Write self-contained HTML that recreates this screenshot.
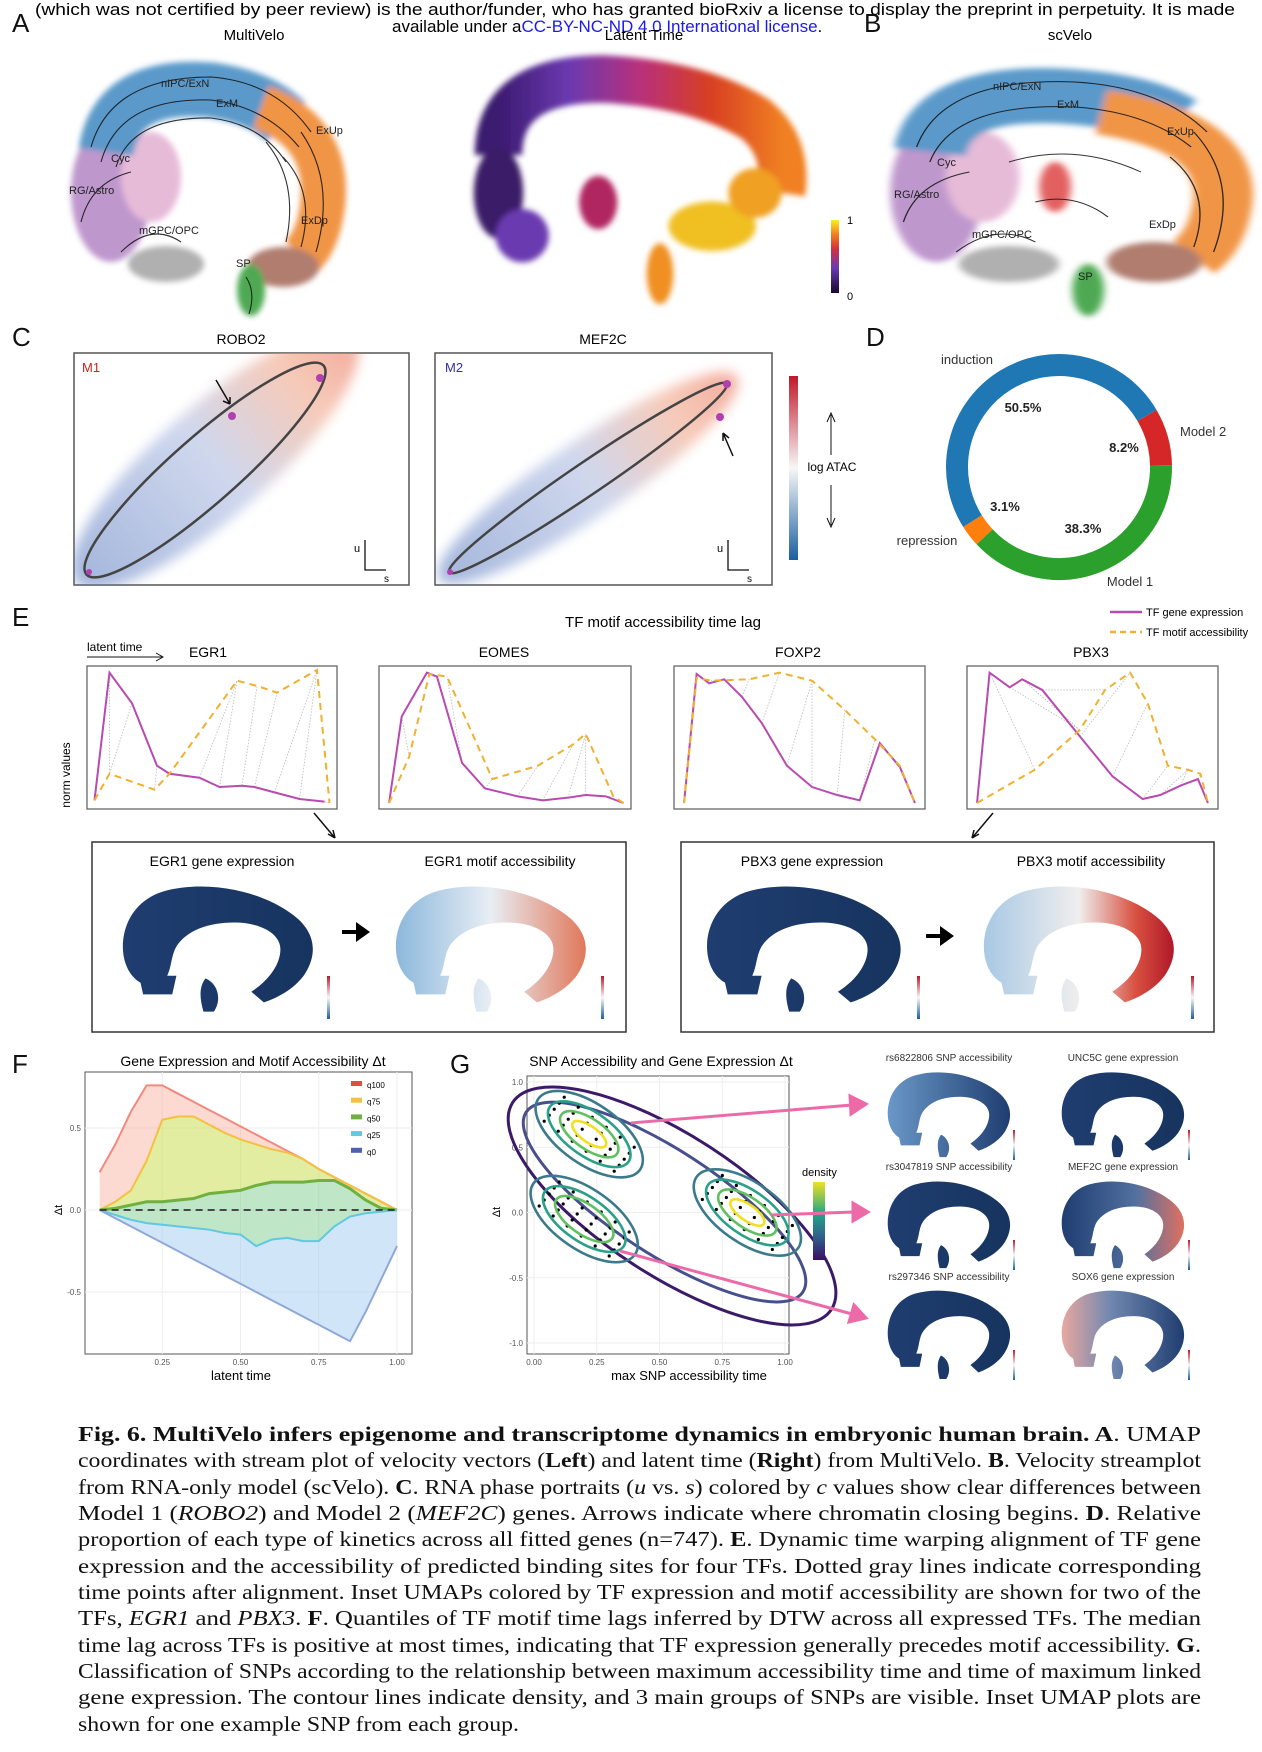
<!DOCTYPE html>
<html><head><meta charset="utf-8">
<style>
html,body{margin:0;padding:0;background:#fff;}
svg{display:block;font-family:"Liberation Sans",sans-serif;}
.cap{font-family:"Liberation Serif",serif;font-size:21px;fill:#111;}
.lbl{font-size:26px;fill:#111;}
</style></head>
<body>
<svg id="fig" width="1262" height="1752" viewBox="0 0 1262 1752" xmlns="http://www.w3.org/2000/svg">
<defs>
 <filter id="blur" x="-20%" y="-20%" width="140%" height="140%"><feGaussianBlur stdDeviation="3"/></filter>
 <filter id="blur2" x="-20%" y="-20%" width="140%" height="140%"><feGaussianBlur stdDeviation="6"/></filter>
 <clipPath id="clipRobo"><rect x="74" y="353" width="335" height="232"/></clipPath>
 <clipPath id="clipMef"><rect x="435" y="353" width="337" height="232"/></clipPath>
 <linearGradient id="ltg" x1="0" y1="0" x2="1" y2="0">
  <stop offset="0" stop-color="#3b1a70"/><stop offset="0.25" stop-color="#6b3ab0"/><stop offset="0.5" stop-color="#b8307a"/><stop offset="0.75" stop-color="#d84020"/><stop offset="1" stop-color="#f08020"/>
 </linearGradient>
 <linearGradient id="ltbar" x1="0" y1="1" x2="0" y2="0">
  <stop offset="0" stop-color="#1a0830"/><stop offset="0.35" stop-color="#6b3ab0"/><stop offset="0.6" stop-color="#d03040"/><stop offset="0.8" stop-color="#f08020"/><stop offset="1" stop-color="#f8f020"/>
 </linearGradient>
 <linearGradient id="rdbu" x1="0" y1="0" x2="0" y2="1">
  <stop offset="0" stop-color="#c0182a"/><stop offset="0.5" stop-color="#f7f7f7"/><stop offset="1" stop-color="#1b5fa0"/>
 </linearGradient>
 <linearGradient id="cloud1" x1="0" y1="0" x2="1" y2="0">
  <stop offset="0" stop-color="#5a7bc0"/><stop offset="0.5" stop-color="#a9b8e0"/><stop offset="0.8" stop-color="#f0a080"/><stop offset="1" stop-color="#e86850"/>
 </linearGradient>
 <linearGradient id="dens" x1="0" y1="1" x2="0" y2="0">
  <stop offset="0" stop-color="#3b0f60"/><stop offset="0.3" stop-color="#30608c"/><stop offset="0.6" stop-color="#22a884"/><stop offset="1" stop-color="#f0e020"/>
 </linearGradient>
 <linearGradient id="uDark" x1="0" y1="0" x2="1" y2="0">
  <stop offset="0" stop-color="#1f3d70"/><stop offset="1" stop-color="#17345f"/>
 </linearGradient>
 <linearGradient id="uEgrMotif" x1="0" y1="0" x2="1" y2="0">
  <stop offset="0" stop-color="#8cb8dc"/><stop offset="0.5" stop-color="#e8eef4"/><stop offset="1" stop-color="#e0785a"/>
 </linearGradient>
 <linearGradient id="uPbxMotif" x1="0" y1="0" x2="1" y2="0">
  <stop offset="0" stop-color="#a8c8e4"/><stop offset="0.5" stop-color="#f0eeee"/><stop offset="0.8" stop-color="#d85040"/><stop offset="1" stop-color="#b01828"/>
 </linearGradient>
 <linearGradient id="uSnp1" x1="0" y1="0" x2="1" y2="0">
  <stop offset="0" stop-color="#6a98c8"/><stop offset="1" stop-color="#1f3d70"/>
 </linearGradient>
 <linearGradient id="uMef" x1="0" y1="0" x2="1" y2="0">
  <stop offset="0" stop-color="#1f3d70"/><stop offset="0.6" stop-color="#5070a0"/><stop offset="1" stop-color="#e07060"/>
 </linearGradient>
 <linearGradient id="uSox" x1="0" y1="0" x2="1" y2="0">
  <stop offset="0" stop-color="#e8a8a0"/><stop offset="0.4" stop-color="#7088b0"/><stop offset="1" stop-color="#1f3d70"/>
 </linearGradient>
 <symbol id="hs" viewBox="0 0 100 100" preserveAspectRatio="none">
  <path d="M5,60 C2,40 8,15 25,8 C45,0 70,8 85,25 C97,38 98,55 92,70 C88,80 80,88 72,92 L66,84 C74,76 80,64 80,52 C80,40 70,32 58,32 C45,32 35,38 30,50 C27,58 28,68 24,76 C18,84 8,78 5,60 Z M44,74 C50,78 52,90 48,99 L43,99 C41,88 41,80 44,74 Z M12,72 L30,72 L28,86 L14,86 Z"/>
 </symbol>
</defs>

<!-- header -->
<text x="635" y="15" text-anchor="middle" font-size="17" textLength="1200" lengthAdjust="spacingAndGlyphs">(which was not certified by peer review) is the author/funder, who has granted bioRxiv a license to display the preprint in perpetuity. It is made</text>
<text x="392" y="32" font-size="17">available under a<tspan fill="#1a1aee">CC-BY-NC-ND 4.0 International license</tspan>.</text>

<text class="lbl" x="12" y="32">A</text>
<text class="lbl" x="864" y="32">B</text>
<text class="lbl" x="12" y="346">C</text>
<text class="lbl" x="866" y="346">D</text>
<text class="lbl" x="12" y="626">E</text>
<text class="lbl" x="12" y="1073">F</text>
<text class="lbl" x="450" y="1073">G</text>

<!-- Panel A MultiVelo -->
<text x="254" y="40" text-anchor="middle" font-size="15">MultiVelo</text>
<g transform="translate(61,52)">
 <g filter="url(#blur)" opacity="0.9">
  <ellipse cx="50" cy="140" rx="40" ry="70" fill="#b88cc8"/>
  <ellipse cx="90" cy="125" rx="30" ry="45" fill="#e4b4d4"/>
  <path d="M45,100 Q55,30 150,38 Q200,45 225,70" fill="none" stroke="#4a8fc4" stroke-width="55"/>
  <path d="M200,55 Q268,80 262,150 Q258,188 240,205" fill="none" stroke="#ef8a32" stroke-width="45"/>
  <ellipse cx="222" cy="215" rx="36" ry="20" fill="#a87060"/>
  <ellipse cx="105" cy="212" rx="38" ry="18" fill="#a8a8a8"/>
  <ellipse cx="190" cy="238" rx="14" ry="26" fill="#3aa040"/>
 </g>
 <g fill="none" stroke="#111" stroke-width="1.1" opacity="0.85">
  <path d="M30,95 Q50,25 150,25 Q215,30 250,80"/>
  <path d="M40,110 Q58,45 150,48 Q205,55 238,95"/>
  <path d="M55,115 Q70,65 150,66 Q200,72 225,110"/>
  <path d="M240,80 Q275,130 255,200"/>
  <path d="M222,105 Q255,140 240,195"/>
  <path d="M205,90 Q238,130 225,190"/>
  <path d="M20,170 Q30,130 70,120"/>
  <path d="M60,200 Q90,170 120,190"/>
  <path d="M185,225 Q195,240 188,262"/>
 </g>
 <g font-size="11" fill="#222">
  <text x="100" y="35">nIPC/ExN</text><text x="155" y="55">ExM</text><text x="255" y="82">ExUp</text>
  <text x="50" y="110">Cyc</text><text x="8" y="142">RG/Astro</text><text x="78" y="182">mGPC/OPC</text>
  <text x="240" y="172">ExDp</text><text x="175" y="215">SP</text>
 </g>
</g>

<!-- Latent time -->
<text x="644" y="40" text-anchor="middle" font-size="15">Latent Time</text>
<g transform="translate(470,60) scale(0.95,0.95)">
 <g filter="url(#blur)">
  <path d="M30,100 Q30,20 140,20 Q240,25 300,62 Q335,90 328,140" fill="none" stroke="url(#ltg)" stroke-width="50"/>
  <ellipse cx="30" cy="140" rx="26" ry="48" fill="#3a1a68"/>
  <ellipse cx="55" cy="185" rx="28" ry="28" fill="#6b3ab0"/>
  <ellipse cx="135" cy="150" rx="20" ry="28" fill="#b02860"/>
  <ellipse cx="255" cy="175" rx="46" ry="26" fill="#f0c020"/>
  <ellipse cx="300" cy="140" rx="28" ry="26" fill="#f0a020"/>
  <ellipse cx="200" cy="225" rx="14" ry="32" fill="#f09020"/>
 </g>
</g>
<rect x="831" y="220" width="8" height="73" fill="url(#ltbar)"/>
<text x="847" y="224" font-size="11">1</text>
<text x="847" y="300" font-size="11">0</text>

<!-- Panel B scVelo -->
<text x="1070" y="40" text-anchor="middle" font-size="15">scVelo</text>
<g transform="translate(877,52) scale(1.32,1)">
 <g filter="url(#blur)" opacity="0.9">
  <ellipse cx="45" cy="140" rx="35" ry="70" fill="#b88cc8"/>
  <ellipse cx="80" cy="125" rx="28" ry="45" fill="#e4b4d4"/>
  <path d="M40,100 Q50,35 150,45 Q200,50 225,70" fill="none" stroke="#4a8fc4" stroke-width="55"/>
  <path d="M170,60 Q268,80 262,150 Q258,188 240,205" fill="none" stroke="#ef8a32" stroke-width="45"/>
  <ellipse cx="210" cy="210" rx="36" ry="20" fill="#a87060"/>
  <ellipse cx="100" cy="212" rx="38" ry="18" fill="#a8a8a8"/>
  <ellipse cx="160" cy="238" rx="12" ry="26" fill="#3aa040"/>
  <ellipse cx="135" cy="135" rx="12" ry="25" fill="#e05050"/>
 </g>
 <g fill="none" stroke="#111" stroke-width="1" opacity="0.85">
  <path d="M30,95 Q50,25 150,30 Q215,35 250,80"/>
  <path d="M40,110 Q58,50 150,55 Q205,60 238,95"/>
  <path d="M100,110 Q150,90 200,120"/>
  <path d="M240,80 Q275,130 255,200"/>
  <path d="M222,105 Q255,140 240,195"/>
  <path d="M20,170 Q30,130 70,120"/>
  <path d="M60,200 Q90,170 120,190"/>
  <path d="M120,150 Q150,140 175,165"/>
 </g>
</g>
<g font-size="11" fill="#222">
 <text x="993" y="90">nIPC/ExN</text><text x="1057" y="108">ExM</text><text x="1167" y="135">ExUp</text>
 <text x="937" y="166">Cyc</text><text x="894" y="198">RG/Astro</text><text x="972" y="238">mGPC/OPC</text>
 <text x="1149" y="228">ExDp</text><text x="1078" y="280">SP</text>
</g>

<!-- Panel C -->
<text x="241" y="344" text-anchor="middle" font-size="14">ROBO2</text>
<text x="603" y="344" text-anchor="middle" font-size="14">MEF2C</text>
<g>
 <rect x="74" y="353" width="335" height="232" fill="#fff" stroke="#555" stroke-width="1.5"/>
 <g clip-path="url(#clipRobo)">
  <ellipse cx="215" cy="460" rx="185" ry="55" transform="rotate(-41.4 215 460)" fill="url(#cloud1)" opacity="0.55" filter="url(#blur2)"/>
 </g>
 <ellipse cx="205" cy="470" rx="158" ry="33" transform="rotate(-41.4 205 470)" fill="none" stroke="#444" stroke-width="2.5"/>
 <circle cx="89" cy="572" r="3" fill="#b040b0"/><circle cx="232" cy="416" r="4" fill="#b040b0"/><circle cx="320" cy="378" r="4" fill="#b040b0"/>
 <path d="M216,380 L230,404 M230,404 l-7,-3 M230,404 l0,-7" stroke="#111" stroke-width="1.5" fill="none"/>
 <text x="82" y="372" font-size="13" fill="#d02020">M1</text>
 <path d="M365,540 V570 H386" stroke="#111" fill="none" stroke-width="1.3"/>
 <text x="354" y="552" font-size="11">u</text><text x="384" y="582" font-size="10">s</text>
</g>
<g>
 <rect x="435" y="353" width="337" height="232" fill="#fff" stroke="#555" stroke-width="1.5"/>
 <g clip-path="url(#clipMef)">
  <ellipse cx="588" cy="478" rx="180" ry="38" transform="rotate(-34.2 588 478)" fill="url(#cloud1)" opacity="0.55" filter="url(#blur2)"/>
 </g>
 <ellipse cx="588" cy="478" rx="168" ry="16" transform="rotate(-34.2 588 478)" fill="none" stroke="#444" stroke-width="2.5"/>
 <circle cx="450" cy="572" r="3" fill="#b040b0"/><circle cx="720" cy="417" r="4" fill="#b040b0"/><circle cx="727" cy="384" r="4" fill="#b040b0"/>
 <path d="M733,456 L723,433 M723,433 l0,8 M723,433 l6,5" stroke="#111" stroke-width="1.5" fill="none"/>
 <text x="445" y="372" font-size="13" fill="#3030a0">M2</text>
 <path d="M728,540 V570 H749" stroke="#111" fill="none" stroke-width="1.3"/>
 <text x="717" y="552" font-size="11">u</text><text x="747" y="582" font-size="10">s</text>
</g>
<rect x="789" y="376" width="9" height="184" fill="url(#rdbu)"/>
<g>
 <path d="M831,455 V415 M827,422 L831,413 L835,422" stroke="#111" fill="none"/>
 <text x="832" y="471" text-anchor="middle" font-size="12">log ATAC</text>
 <path d="M831,485 V525 M827,518 L831,527 L835,518" stroke="#111" fill="none"/>
</g>

<!-- Panel D donut -->
<g id="donut"></g>
<g font-size="13" fill="#333">
 <text x="967" y="364" text-anchor="middle">induction</text>
 <text x="1023" y="412" text-anchor="middle" font-weight="bold" fill="#222">50.5%</text>
 <text x="1180" y="436">Model 2</text>
 <text x="1124" y="452" text-anchor="middle" font-weight="bold" fill="#222">8.2%</text>
 <text x="1005" y="511" text-anchor="middle" font-weight="bold" fill="#222">3.1%</text>
 <text x="1083" y="533" text-anchor="middle" font-weight="bold" fill="#222">38.3%</text>
 <text x="927" y="545" text-anchor="middle">repression</text>
 <text x="1130" y="586" text-anchor="middle">Model 1</text>
</g>

<!-- Panel E -->
<text x="663" y="627" text-anchor="middle" font-size="15">TF motif accessibility time lag</text>
<g>
 <line x1="1110" y1="612" x2="1142" y2="612" stroke="#b84ab0" stroke-width="2.5"/>
 <text x="1146" y="616" font-size="11">TF gene expression</text>
 <line x1="1110" y1="632" x2="1142" y2="632" stroke="#f0b030" stroke-width="2.5" stroke-dasharray="6,4"/>
 <text x="1146" y="636" font-size="11">TF motif accessibility</text>
</g>
<text x="87" y="651" font-size="12">latent time</text>
<path d="M87,657 H162 M156,653 L163,657 L156,661" stroke="#111" fill="none"/>
<text transform="translate(70,775) rotate(-90)" text-anchor="middle" font-size="12">norm values</text>
<g id="ePanels"></g>
<path d="M314,813 L335,838 M335,838 l-2,-8 M335,838 l-7,-4" stroke="#111" stroke-width="1.5" fill="none"/>
<path d="M993,813 L972,838 M972,838 l2,-8 M972,838 l7,-4" stroke="#111" stroke-width="1.5" fill="none"/>

<g>
 <rect x="92" y="842" width="534" height="190" fill="none" stroke="#333" stroke-width="1.5"/>
 <text x="222" y="866" text-anchor="middle" font-size="14">EGR1 gene expression</text>
 <text x="500" y="866" text-anchor="middle" font-size="14">EGR1 motif accessibility</text>
 <use href="#hs" x="114" y="880" width="208" height="133" fill="url(#uDark)"/>
 <use href="#hs" x="387" y="880" width="208" height="133" fill="url(#uEgrMotif)"/>
 <path d="M342,930 H356 V922 L370,932 L356,942 V934 H342 Z" fill="#000"/>
 <rect x="327" y="976" width="3" height="43" fill="url(#rdbu)"/>
 <rect x="601" y="976" width="3" height="43" fill="url(#rdbu)"/>
</g>
<g>
 <rect x="681" y="842" width="533" height="190" fill="none" stroke="#333" stroke-width="1.5"/>
 <text x="812" y="866" text-anchor="middle" font-size="14">PBX3 gene expression</text>
 <text x="1091" y="866" text-anchor="middle" font-size="14">PBX3 motif accessibility</text>
 <use href="#hs" x="698" y="880" width="212" height="133" fill="url(#uDark)"/>
 <use href="#hs" x="975" y="880" width="208" height="133" fill="url(#uPbxMotif)"/>
 <path d="M926,934 H940 V926 L954,936 L940,946 V938 H926 Z" fill="#000"/>
 <rect x="917" y="976" width="3" height="43" fill="url(#rdbu)"/>
 <rect x="1191" y="976" width="3" height="43" fill="url(#rdbu)"/>
</g>

<!-- Panel F -->
<text x="253" y="1066" text-anchor="middle" font-size="14">Gene Expression and Motif Accessibility Δt</text>
<g id="fChart"></g>
<text x="241" y="1380" text-anchor="middle" font-size="13">latent time</text>
<text transform="translate(62,1210) rotate(-90)" text-anchor="middle" font-size="11">Δt</text>

<!-- Panel G -->
<text x="661" y="1066" text-anchor="middle" font-size="14">SNP Accessibility and Gene Expression Δt</text>
<g id="gChart"></g>
<text x="689" y="1380" text-anchor="middle" font-size="13">max SNP accessibility time</text>
<text transform="translate(500,1212) rotate(-90)" text-anchor="middle" font-size="11">Δt</text>
<text x="802" y="1176" font-size="11">density</text>
<rect x="813" y="1182" width="12" height="78" fill="url(#dens)"/>
<g>
 <g font-size="10" fill="#333">
  <text x="949" y="1061" text-anchor="middle">rs6822806 SNP accessibility</text>
  <text x="1123" y="1061" text-anchor="middle">UNC5C gene expression</text>
  <text x="949" y="1170" text-anchor="middle">rs3047819 SNP accessibility</text>
  <text x="1123" y="1170" text-anchor="middle">MEF2C gene expression</text>
  <text x="949" y="1280" text-anchor="middle">rs297346 SNP accessibility</text>
  <text x="1123" y="1280" text-anchor="middle">SOX6 gene expression</text>
 </g>
 <use href="#hs" x="882" y="1068" width="134" height="90" fill="url(#uSnp1)"/>
 <use href="#hs" x="1056" y="1068" width="134" height="90" fill="url(#uDark)"/>
 <use href="#hs" x="882" y="1177" width="134" height="92" fill="url(#uDark)"/>
 <use href="#hs" x="1056" y="1177" width="134" height="92" fill="url(#uMef)"/>
 <use href="#hs" x="882" y="1286" width="134" height="94" fill="url(#uDark)"/>
 <use href="#hs" x="1056" y="1286" width="134" height="94" fill="url(#uSox)"/>
 <rect x="1013" y="1130" width="2" height="30" fill="url(#rdbu)"/><rect x="1188" y="1130" width="2" height="30" fill="url(#rdbu)"/>
 <rect x="1013" y="1240" width="2" height="30" fill="url(#rdbu)"/><rect x="1188" y="1240" width="2" height="30" fill="url(#rdbu)"/>
 <rect x="1013" y="1350" width="2" height="30" fill="url(#rdbu)"/><rect x="1188" y="1350" width="2" height="30" fill="url(#rdbu)"/>
</g>
<g stroke="#ec6aa8" stroke-width="3" fill="#ec6aa8">
 <line x1="631" y1="1123" x2="852" y2="1105"/><path d="M866,1104 L850,1096 L851,1114 Z"/>
 <line x1="771" y1="1215" x2="854" y2="1212"/><path d="M868,1212 L853,1203 L853,1221 Z"/>
 <line x1="620" y1="1251" x2="852" y2="1314"/><path d="M866,1318 L854,1305 L849,1322 Z"/>
</g>

<!-- Caption -->
<g class="cap">
 <text x="78" y="1441" textLength="1123" lengthAdjust="spacingAndGlyphs"><tspan font-weight="bold">Fig. 6. MultiVelo infers epigenome and transcriptome dynamics in embryonic human brain. A</tspan>. UMAP</text>
 <text x="78" y="1467" textLength="1123" lengthAdjust="spacingAndGlyphs">coordinates with stream plot of velocity vectors (<tspan font-weight="bold">Left</tspan>) and latent time (<tspan font-weight="bold">Right</tspan>) from MultiVelo. <tspan font-weight="bold">B</tspan>. Velocity streamplot</text>
 <text x="78" y="1494" textLength="1123" lengthAdjust="spacingAndGlyphs">from RNA-only model (scVelo). <tspan font-weight="bold">C</tspan>. RNA phase portraits (<tspan font-style="italic">u</tspan> vs. <tspan font-style="italic">s</tspan>) colored by <tspan font-style="italic">c</tspan> values show clear differences between</text>
 <text x="78" y="1520" textLength="1123" lengthAdjust="spacingAndGlyphs">Model 1 (<tspan font-style="italic">ROBO2</tspan>) and Model 2 (<tspan font-style="italic">MEF2C</tspan>) genes. Arrows indicate where chromatin closing begins. <tspan font-weight="bold">D</tspan>. Relative</text>
 <text x="78" y="1546" textLength="1123" lengthAdjust="spacingAndGlyphs">proportion of each type of kinetics across all fitted genes (n=747). <tspan font-weight="bold">E</tspan>. Dynamic time warping alignment of TF gene</text>
 <text x="78" y="1573" textLength="1123" lengthAdjust="spacingAndGlyphs">expression and the accessibility of predicted binding sites for four TFs. Dotted gray lines indicate corresponding</text>
 <text x="78" y="1599" textLength="1123" lengthAdjust="spacingAndGlyphs">time points after alignment. Inset UMAPs colored by TF expression and motif accessibility are shown for two of the</text>
 <text x="78" y="1625" textLength="1123" lengthAdjust="spacingAndGlyphs">TFs, <tspan font-style="italic">EGR1</tspan> and <tspan font-style="italic">PBX3</tspan>. <tspan font-weight="bold">F</tspan>. Quantiles of TF motif time lags inferred by DTW across all expressed TFs. The median</text>
 <text x="78" y="1652" textLength="1123" lengthAdjust="spacingAndGlyphs">time lag across TFs is positive at most times, indicating that TF expression generally precedes motif accessibility. <tspan font-weight="bold">G</tspan>.</text>
 <text x="78" y="1678" textLength="1123" lengthAdjust="spacingAndGlyphs">Classification of SNPs according to the relationship between maximum accessibility time and time of maximum linked</text>
 <text x="78" y="1704" textLength="1123" lengthAdjust="spacingAndGlyphs">gene expression. The contour lines indicate density, and 3 main groups of SNPs are visible. Inset UMAP plots are</text>
 <text x="78" y="1731" textLength="441" lengthAdjust="spacingAndGlyphs">shown for one example SNP from each group.</text>
</g>
</svg>

<script>
// ---------- Panel D data ----------
const donutLabels = ["Model 2", "Model 1", "repression", "induction"];
const donutValues = [8.2, 38.3, 3.1, 50.5];
const donutColors = ["#d62728", "#2ca02c", "#ff7f0e", "#1f77b4"];

// ---------- Panel E data ----------
const eGenes = ["EGR1", "EOMES", "FOXP2", "PBX3"];
const exprX = [
 [0.03,0.09,0.18,0.28,0.33,0.45,0.53,0.62,0.67,0.75,0.85,0.95],
 [0.04,0.09,0.19,0.23,0.33,0.42,0.55,0.65,0.75,0.82,0.90,0.97],
 [0.04,0.09,0.14,0.20,0.27,0.35,0.45,0.55,0.65,0.74,0.82,0.90,0.96],
 [0.04,0.09,0.17,0.22,0.30,0.45,0.58,0.70,0.77,0.85,0.92,0.96]];
const exprY = [
 [0.02,0.98,0.75,0.28,0.22,0.19,0.12,0.13,0.12,0.08,0.03,0.01],
 [0.00,0.65,0.98,0.95,0.30,0.11,0.05,0.02,0.04,0.06,0.05,0.00],
 [0.00,0.97,0.90,0.93,0.80,0.60,0.28,0.12,0.06,0.02,0.45,0.27,0.00],
 [0.00,0.98,0.87,0.93,0.85,0.50,0.20,0.03,0.06,0.13,0.18,0.00]];
const motifX = [
 [0.03,0.09,0.27,0.33,0.60,0.68,0.76,0.92,0.97],
 [0.04,0.12,0.20,0.27,0.45,0.63,0.77,0.82,0.93,0.97],
 [0.04,0.09,0.15,0.30,0.42,0.55,0.68,0.80,0.90,0.96],
 [0.04,0.27,0.45,0.55,0.65,0.72,0.80,0.88,0.93,0.96]];
const motifY = [
 [0.02,0.22,0.10,0.22,0.92,0.88,0.83,1.00,0.00],
 [0.00,0.35,0.97,0.95,0.18,0.28,0.44,0.52,0.05,0.00],
 [0.00,0.94,0.92,0.93,0.98,0.92,0.70,0.48,0.28,0.00],
 [0.00,0.25,0.55,0.85,0.98,0.75,0.28,0.25,0.22,0.00]];

// ---------- Panel F data ----------
const fTime = [0.05,0.1,0.15,0.2,0.25,0.3,0.35,0.4,0.45,0.5,0.55,0.6,0.65,0.7,0.75,0.8,0.85,0.9,0.95,1.0];
const q100 = [0.23,0.40,0.60,0.76,0.76,0.71,0.66,0.61,0.56,0.51,0.46,0.41,0.36,0.31,0.25,0.20,0.15,0.10,0.05,0];
const q75  = [0,0.05,0.12,0.30,0.55,0.57,0.57,0.52,0.47,0.43,0.40,0.37,0.35,0.31,0.25,0.20,0.15,0.10,0.05,0];
const q50  = [0,0.01,0.03,0.05,0.05,0.06,0.07,0.10,0.11,0.12,0.15,0.17,0.17,0.17,0.18,0.18,0.13,0.06,0.01,0];
const q25  = [0,-0.03,-0.06,-0.08,-0.09,-0.10,-0.11,-0.12,-0.14,-0.15,-0.22,-0.18,-0.17,-0.19,-0.19,-0.10,-0.04,-0.02,-0.01,0];
const q0   = [0,-0.05,-0.10,-0.15,-0.20,-0.25,-0.30,-0.35,-0.40,-0.45,-0.50,-0.55,-0.60,-0.65,-0.70,-0.75,-0.80,-0.62,-0.42,-0.22];
const fXTicks = [0.25,0.5,0.75,1.0];
const fXTickLabels = ["0.25","0.50","0.75","1.00"];
const fYTicks = [0.5,0,-0.5];
const fYTickLabels = ["0.5","0.0","-0.5"];
const fLegendLabels = ["q100","q75","q50","q25","q0"];

// ---------- Panel G data ----------
const gClusterX = [0.22, 0.85, 0.20];
const gClusterY = [0.60, 0.00, -0.05];
const gXTicks = [0,0.25,0.5,0.75,1.0];
const gXTickLabels = ["0.00","0.25","0.50","0.75","1.00"];
const gYTicks = [1,0.5,0,-0.5,-1];
const gYTickLabels = ["1.0","0.5","0.0","-0.5","-1.0"];

const NS = "http://www.w3.org/2000/svg";
function el(tag, parent) { const e = document.createElementNS(NS, tag); parent.appendChild(e); return e; }

// Donut
(function(){
  const g = document.getElementById("donut");
  const cx = 1059, cy = 467, r = 102, total = donutValues.reduce((a,b)=>a+b,0);
  let a0 = 59.6;
  donutValues.forEach((v,i)=>{
    const a1 = a0 + v/total*360;
    const p = (a)=>[cx + r*Math.sin(a*Math.PI/180), cy - r*Math.cos(a*Math.PI/180)];
    const s = p(a0), e = p(a1);
    const path = el("path", g);
    path.setAttribute("d", `M${s[0]},${s[1]} A${r},${r} 0 ${(a1-a0)>180?1:0} 1 ${e[0]},${e[1]}`);
    path.setAttribute("fill","none");
    path.setAttribute("stroke", donutColors[i]);
    path.setAttribute("stroke-width","22");
    
    
    a0 = a1;
  });
})();

// E panels
(function(){
  const g = document.getElementById("ePanels");
  const boxX = [87,379,674,967], boxW = [250,252,251,251], top = 666, h = 143;
  const titleX = [208,504,798,1091];
  eGenes.forEach((gene,k)=>{
    const sub = el("g", g);
    
    
    const t = el("text", sub);
    t.setAttribute("x", titleX[k]); t.setAttribute("y", 657); t.setAttribute("text-anchor","middle"); t.setAttribute("font-size","14");
    t.textContent = gene;
    
    
    const box = el("rect", sub);
    box.setAttribute("x", boxX[k]); box.setAttribute("y", top); box.setAttribute("width", boxW[k]); box.setAttribute("height", h);
    box.setAttribute("fill","#fff"); box.setAttribute("stroke","#666"); box.setAttribute("stroke-width","1.3");
    
    
    const X = (v)=> boxX[k] + v*boxW[k];
    const Y = (v)=> top + 4 + (1-v)*(h-10);
    exprX[k].forEach((xv,i)=>{
      const j = Math.min(motifX[k].length-1, Math.round(i*(motifX[k].length-1)/(exprX[k].length-1)));
      const ln = el("line", sub);
      ln.setAttribute("x1", X(xv)); ln.setAttribute("y1", Y(exprY[k][i]));
      ln.setAttribute("x2", X(motifX[k][j])); ln.setAttribute("y2", Y(motifY[k][j]));
      ln.setAttribute("stroke","#bbb"); ln.setAttribute("stroke-width","0.8"); ln.setAttribute("stroke-dasharray","1.5,1.5");
      
      
    });
    const ex = el("polyline", sub);
    ex.setAttribute("points", exprX[k].map((xv,i)=>X(xv)+","+Y(exprY[k][i])).join(" "));
    ex.setAttribute("fill","none"); ex.setAttribute("stroke","#b84ab0"); ex.setAttribute("stroke-width","2");
    
    
    const mo = el("polyline", sub);
    mo.setAttribute("points", motifX[k].map((xv,i)=>X(xv)+","+Y(motifY[k][i])).join(" "));
    mo.setAttribute("fill","none"); mo.setAttribute("stroke","#f0b030"); mo.setAttribute("stroke-width","2"); mo.setAttribute("stroke-dasharray","7,5");
    
    
  });
})();

// F chart
(function(){
  const g = document.getElementById("fChart");
  const L=85, R=412, T=1072, B=1354;
  const X = (t)=> 84 + t*313;
  const Y = (v)=> 1210 - v*164;
  const bg = el("rect", g);
  bg.setAttribute("x",L); bg.setAttribute("y",T); bg.setAttribute("width",R-L); bg.setAttribute("height",B-T);
  bg.setAttribute("fill","#fff"); bg.setAttribute("stroke","#555");
  
  
  fXTicks.forEach((t,i)=>{
    const gl = el("line", g); gl.setAttribute("x1",X(t)); gl.setAttribute("x2",X(t)); gl.setAttribute("y1",T); gl.setAttribute("y2",B); gl.setAttribute("stroke","#eee");
    
    
    const tx = el("text", g); tx.setAttribute("x",X(t)); tx.setAttribute("y",B+11); tx.setAttribute("text-anchor","middle"); tx.setAttribute("font-size","8"); tx.setAttribute("fill","#555");
    tx.textContent = fXTickLabels[i];
    
    
  });
  fYTicks.forEach((v,i)=>{
    const gl = el("line", g); gl.setAttribute("x1",L); gl.setAttribute("x2",R); gl.setAttribute("y1",Y(v)); gl.setAttribute("y2",Y(v)); gl.setAttribute("stroke","#eee");
    
    
    const tx = el("text", g); tx.setAttribute("x",L-4); tx.setAttribute("y",Y(v)+3); tx.setAttribute("text-anchor","end"); tx.setAttribute("font-size","8"); tx.setAttribute("fill","#555");
    tx.textContent = fYTickLabels[i];
    
    
  });
  const series = [q100,q75,q50,q25,q0];
  const lineColors = ["#f08a80","#f5c040","#70b040","#60c8e0","#90a8d8"];
  const fills = ["rgba(248,160,140,0.4)","rgba(200,220,70,0.5)","rgba(110,200,130,0.45)","rgba(150,200,240,0.45)"];
  for (let s=0; s<4; s++){
    const up = series[s], lo = series[s+1];
    const pts = fTime.map((t,i)=>X(t)+","+Y(up[i])).concat(fTime.slice().reverse().map((t,ii)=>{const i=fTime.length-1-ii; return X(t)+","+Y(lo[i]);}));
    const poly = el("polygon", g);
    poly.setAttribute("points", pts.join(" ")); poly.setAttribute("fill", fills[s]);
    
    
  }
  series.forEach((arr,s)=>{
    const pl = el("polyline", g);
    pl.setAttribute("points", fTime.map((t,i)=>X(t)+","+Y(arr[i])).join(" "));
    pl.setAttribute("fill","none"); pl.setAttribute("stroke", lineColors[s]); pl.setAttribute("stroke-width", s===2?3:2);
    
    
  });
  const z = el("line", g);
  z.setAttribute("x1",X(0.05)); z.setAttribute("x2",X(1)); z.setAttribute("y1",Y(0)); z.setAttribute("y2",Y(0));
  z.setAttribute("stroke","#333"); z.setAttribute("stroke-width","1.8"); z.setAttribute("stroke-dasharray","7,5");
  
  
  const legendColors = ["#e05040","#f5c040","#70b040","#60c8e0","#5060b0"];
  fLegendLabels.forEach((lab,i)=>{
    const r = el("rect", g); r.setAttribute("x",351); r.setAttribute("y",1081+i*16.7); r.setAttribute("width",11); r.setAttribute("height",5); r.setAttribute("fill",legendColors[i]);
    
    
    const t = el("text", g); t.setAttribute("x",367); t.setAttribute("y",1088+i*16.7); t.setAttribute("font-size","8"); t.textContent = lab;
    
    
  });
})();

// G chart
(function(){
  const g = document.getElementById("gChart");
  const L=527, R=789, T=1076, B=1354;
  const X = (t)=> 534 + t*251;
  const Y = (v)=> 1212.5 - v*130.5;
  const bg = el("rect", g);
  bg.setAttribute("x",L); bg.setAttribute("y",T); bg.setAttribute("width",R-L); bg.setAttribute("height",B-T);
  bg.setAttribute("fill","#fff"); bg.setAttribute("stroke","#555");
  
  
  gXTicks.forEach((t,i)=>{
    const gl = el("line", g); gl.setAttribute("x1",X(t)); gl.setAttribute("x2",X(t)); gl.setAttribute("y1",T); gl.setAttribute("y2",B); gl.setAttribute("stroke","#eee");
    
    
    const tx = el("text", g); tx.setAttribute("x",X(t)); tx.setAttribute("y",B+11); tx.setAttribute("text-anchor","middle"); tx.setAttribute("font-size","8"); tx.setAttribute("fill","#555");
    tx.textContent = gXTickLabels[i];
    
    
  });
  gYTicks.forEach((v,i)=>{
    const gl = el("line", g); gl.setAttribute("x1",L); gl.setAttribute("x2",R); gl.setAttribute("y1",Y(v)); gl.setAttribute("y2",Y(v)); gl.setAttribute("stroke","#eee");
    
    
    const tx = el("text", g); tx.setAttribute("x",L-4); tx.setAttribute("y",Y(v)+3); tx.setAttribute("text-anchor","end"); tx.setAttribute("font-size","8"); tx.setAttribute("fill","#555");
    tx.textContent = gYTickLabels[i];
    
    
  });
  const mid = el("ellipse", g);
  mid.setAttribute("cx", X(0.55)); mid.setAttribute("cy", Y(0.05)); mid.setAttribute("rx", 190); mid.setAttribute("ry", 70);
  mid.setAttribute("transform", `rotate(33 ${X(0.55)} ${Y(0.05)})`);
  mid.setAttribute("fill","none"); mid.setAttribute("stroke","#3b1a68"); mid.setAttribute("stroke-width","3");
  
  
  const mid2 = el("ellipse", g);
  mid2.setAttribute("cx", X(0.52)); mid2.setAttribute("cy", Y(0.08)); mid2.setAttribute("rx", 165); mid2.setAttribute("ry", 52);
  mid2.setAttribute("transform", `rotate(33 ${X(0.52)} ${Y(0.08)})`);
  mid2.setAttribute("fill","none"); mid2.setAttribute("stroke","#48508c"); mid2.setAttribute("stroke-width","3");
  
  
  const ringColors = ["#3a7a8c","#2aa088","#60c060","#f0e020"];
  const ringSize = [[62,30],[48,22],[34,15],[20,8]];
  gClusterX.forEach((cxv,k)=>{
    const cx = X(cxv), cy = Y(gClusterY[k]);
    for (let a=0; a<6; a++) for (let b=-2; b<=2; b++){
      const d = el("circle", g);
      d.setAttribute("cx", cx + (a-2.5)*14 + b*5); d.setAttribute("cy", cy + (a-2.5)*10 - b*6);
      d.setAttribute("r", 1.6); d.setAttribute("fill","#000");
      
      
    }
    ringSize.forEach((rs,i)=>{
      if (k===2 && i===3) return;
      const e = el("ellipse", g);
      e.setAttribute("cx", cx); e.setAttribute("cy", cy); e.setAttribute("rx", rs[0]); e.setAttribute("ry", rs[1]);
      e.setAttribute("transform", `rotate(35 ${cx} ${cy})`);
      e.setAttribute("fill","none"); e.setAttribute("stroke", ringColors[i]); e.setAttribute("stroke-width","2.6");
      
      
    });
  });
})();
</script>
</body></html>
